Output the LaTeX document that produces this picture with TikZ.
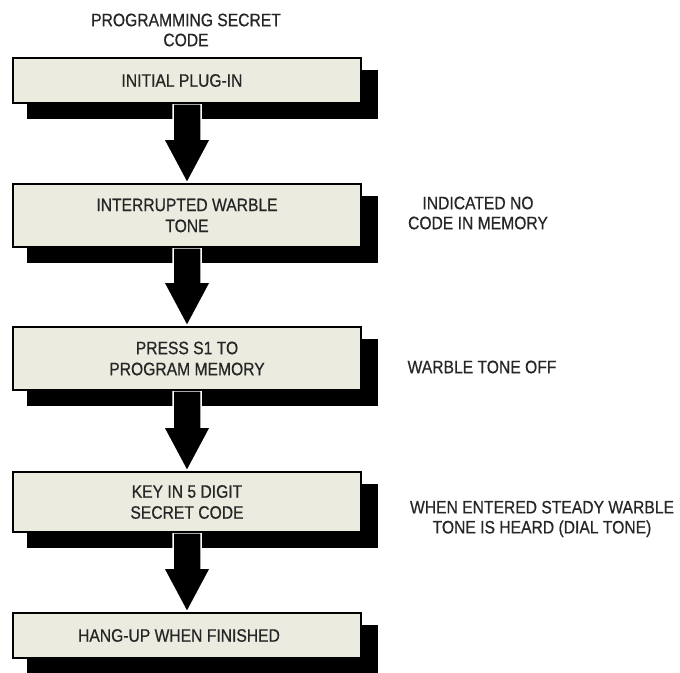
\documentclass[tikz,border=0pt]{standalone}
\usepackage{fontspec}
\setmainfont{Liberation Sans}[FakeStretch=0.87,FakeBold=0.6]
\usetikzlibrary{calc,backgrounds}
\definecolor{boxfill}{HTML}{EBEBE0}
\definecolor{ink}{HTML}{262626}
\begin{document}
\begin{tikzpicture}[x=1pt,y=-1pt,
  stepbox/.style={draw=black, line width=1.6pt, fill=boxfill, minimum width=348pt, inner sep=0pt, align=center, text=ink, font=\fontsize{18}{21}\selectfont},
  note/.style={align=center, text=ink, font=\fontsize{18}{20}\selectfont},
  shadowfill/.style={fill=black},
  flowarrow/.style={fill=black, draw=white, line width=1.5pt, line join=miter}]
\useasboundingbox (0,0) rectangle (680,672);
\node[note] (title) at (186,30) {PROGRAMMING SECRET\\CODE};
\node[stepbox, minimum height=45pt] (b1) at (187,80.5) {\hspace*{-10pt}INITIAL PLUG-IN};
\node[stepbox, minimum height=63pt] (b2) at (187,215.5) {INTERRUPTED WARBLE\\TONE};
\node[stepbox, minimum height=63pt] (b3) at (187,358.5) {PRESS S1 TO\\PROGRAM MEMORY};
\node[stepbox, minimum height=60pt] (b4) at (187,502) {KEY IN 5 DIGIT\\SECRET CODE};
\node[stepbox, minimum height=45pt] (b5) at (187,635.5) {\hspace*{-16pt}HANG-UP WHEN FINISHED};
\node[note] (n2) at (478,213) {INDICATED NO\\CODE IN MEMORY};
\node[note] (n3) at (482,367) {WARBLE TONE OFF};
\node[note] (n4) at (542,519) {WHEN ENTERED STEADY WARBLE\\TONE IS HEARD (DIAL TONE)};
\begin{scope}[on background layer]
  \foreach \b in {b1,b2,b3,b4,b5}{
    \fill[shadowfill] ($(\b.north west)+(15,13)$) rectangle ($(\b.south east)+(16,15)$);
  }
  \foreach \a/\b in {b1/b2,b2/b3,b3/b4,b4/b5}{
    \filldraw[flowarrow] ($(\a.south)+(-14,0)$) -- ($(\b.north)+(-14,-44)$) -- ($(\b.north)+(-23.5,-44)$) -- (\b.north) -- ($(\b.north)+(23.5,-44)$) -- ($(\b.north)+(14,-44)$) -- ($(\a.south)+(14,0)$) -- cycle;
  }
\end{scope}
\end{tikzpicture}
\end{document}
